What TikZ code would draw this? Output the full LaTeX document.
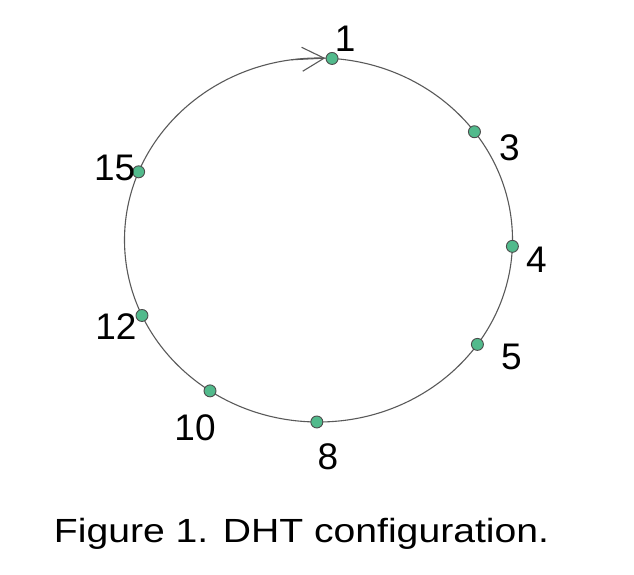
\documentclass[tikz,border=0pt]{standalone}
\usepackage{fontspec}
\setmainfont{Liberation Sans}
\usepackage{tikz}
\usetikzlibrary{arrows.meta,calc,positioning}
\definecolor{peer}{RGB}{82,186,140}

\begin{document}
\begin{tikzpicture}[x=1pt,y=1pt,
	ring/.style={draw=black!65,line width=1.1pt},
	peernode/.style={circle,draw=black!70,line width=0.9pt,fill=peer,inner sep=0pt,minimum size=12pt},
	lbl/.style={inner sep=0pt,font=\fontsize{37}{40}\selectfont}]
	\useasboundingbox (0,0) rectangle (634,574);
	\coordinate (c) at (318.5,334);
	\draw[ring] (c) ellipse [x radius=194, y radius=182];
	% arrow on the ring
	\coordinate (a0) at ($(c)+(98:194 and 182)$);
	\coordinate (a1) at ($(c)+(88:194 and 182)$);
	\draw[ring,-{Straight Barb[length=22pt,width=24pt,line width=1.1pt]}] (a0) -- (a1);
	% peers
	\node[peernode] (n1)  at ($(c)+(86:194 and 182)$) {};
	\node[peernode] (n3)  at ($(c)+(36.5:194 and 182)$) {};
	\node[peernode] (n4)  at ($(c)+(-2:194 and 182)$) {};
	\node[peernode] (n5)  at ($(c)+(-35:194 and 182)$) {};
	\node[peernode] (n8)  at ($(c)+(-90.5:194 and 182)$) {};
	\node[peernode] (n10) at ($(c)+(-124:194 and 182)$) {};
	\node[peernode] (n12) at ($(c)+(-155.5:194 and 182)$) {};
	\node[peernode] (n15) at ($(c)+(158:194 and 182)$) {};
	% labels
	\node[lbl] (l1)  at ($(n1)+(13,20)$) {1};
	\node[lbl] (l3)  at ($(n3)+(35,-16)$) {3};
	\node[lbl] (l4)  at ($(n4)+(24,-13)$) {4};
	\node[lbl] (l5)  at ($(n5)+(34,-13)$) {5};
	\node[lbl] (l8)  at ($(n8)+(11,-35)$) {8};
	\node[lbl] (l10) at ($(n10)+(-15,-37)$) {10};
	\node[lbl] (l12) at ($(n12)+(-26,-11)$) {12};
	\node[lbl] (l15) at ($(n15)+(-24,4)$) {15};
	\node[anchor=base,inner sep=0pt,xscale=1.168,transform shape,font=\fontsize{33.5}{36}\selectfont] (cap) at (301.5,32) {Figure 1. DHT configuration.};
\end{tikzpicture}
\end{document}
